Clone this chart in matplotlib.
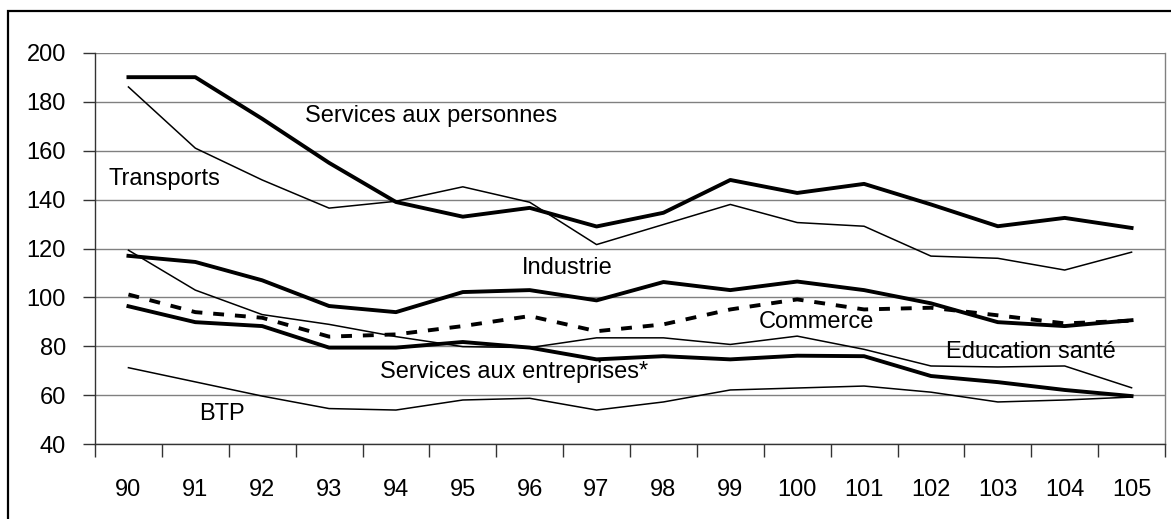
#!/usr/bin/env python3
"""Indices par secteur, 90 a 105."""

import matplotlib
matplotlib.use("Agg")
import matplotlib.pyplot as plt
from matplotlib.patches import Rectangle

plt.rcParams["font.family"] = ["Liberation Sans", "DejaVu Sans"]

years = ["90", "91", "92", "93", "94", "95", "96", "97", "98", "99",
         "100", "101", "102", "103", "104", "105"]

services_personnes = [190, 190, 173, 155, 139, 133, 136.6, 129, 134.6, 148,
                      142.7, 146.4, 138, 129.1, 132.5, 128.4]
transports = [186, 161, 148, 136.5, 139.3, 145.2, 138.9, 121.6, 129.8, 138,
              130.6, 129.1, 116.9, 116, 111.2, 118.5]
industrie = [117, 114.5, 107, 96.5, 94, 102.2, 103, 98.8, 106.3, 103,
             106.5, 103, 97.6, 89.9, 88.3, 90.7]
commerce = [101.2, 94, 91.7, 84, 84.9, 88.3, 92.4, 86.2, 89, 95.1,
            99.2, 95.1, 95.8, 92.7, 89.4, 90.5]
education_sante = [119.3, 103, 93, 89, 84, 79.9, 79.5, 83.5, 83.5, 80.8,
                   84.2, 78.8, 72, 71.6, 72, 63.1]
services_entreprises = [96.4, 89.9, 88.3, 79.5, 79.5, 81.8, 79.5, 74.7, 76, 74.7,
                        76.2, 76, 67.9, 65.4, 62.2, 59.7]
btp = [71.3, 65.5, 59.7, 54.6, 54, 58.1, 58.8, 54, 57.3, 62.2,
       63, 63.8, 61.3, 57.3, 58.1, 59.3]

FS = 17

fig = plt.figure(figsize=(11.71, 5.19), dpi=100)
ax = fig.add_axes([95 / 1171, 1 - 444.3 / 519, 1070 / 1171, (444.3 - 52.7) / 519])

x = list(range(len(years)))
thick = 2.8
thin = 1.1
ax.plot(x, services_personnes, color="black", lw=thick)
ax.plot(x, transports, color="black", lw=thin)
ax.plot(x, industrie, color="black", lw=thick)
ax.plot(x, commerce, color="black", lw=thick, dashes=(2.8, 2.8))
ax.plot(x, education_sante, color="black", lw=thin)
ax.plot(x, services_entreprises, color="black", lw=thick)
ax.plot(x, btp, color="black", lw=thin)

labels = [
    ("Services aux personnes", 2.64, 174.0),
    ("Transports", -0.30, 148.6),
    ("Industrie", 5.88, 112.2),
    ("Commerce", 9.42, 89.9),
    ("Education santé", 12.22, 77.7),
    ("Services aux entreprises*", 3.76, 69.4),
    ("BTP", 1.06, 52.2),
]
for text, tx, ty in labels:
    ax.text(tx, ty, text, fontsize=FS, ha="left", va="center")

ax.set_xlim(-0.5, len(years) - 0.5)
ax.set_ylim(40, 200)
ax.set_yticks(range(40, 201, 20))
ax.set_xticks(x)
ax.set_xticklabels(years)
ax.set_xticks([i - 0.5 for i in range(len(years) + 1)], minor=True)
ax.tick_params(axis="x", which="major", length=0, pad=25, labelsize=FS)
ax.tick_params(axis="x", which="minor", length=9, width=1, color="#333333", direction="out")
ax.tick_params(axis="y", length=9, width=1, color="#333333", pad=12, labelsize=FS)

ax.grid(axis="y", color="#808080", lw=1)
ax.set_axisbelow(True)
ax.spines["top"].set_visible(False)
ax.spines["left"].set_color("#333333")
ax.spines["bottom"].set_color("#333333")
ax.spines["right"].set_color("#808080")
for sp in ax.spines.values():
    sp.set_linewidth(1)

fig.patches.append(Rectangle((8 / 1171, -0.2), 1.5, 1.2 - 11 / 519, transform=fig.transFigure,
                             fill=False, edgecolor="black", lw=1.6))

fig.savefig("out.png", dpi=100)
